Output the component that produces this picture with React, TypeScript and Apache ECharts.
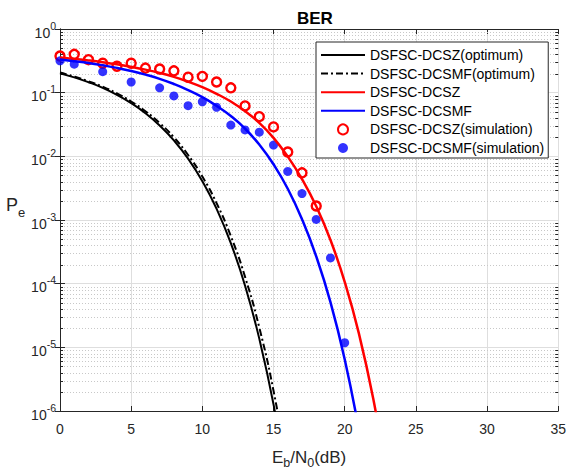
import React, { useEffect, useRef } from 'react';
import * as echarts from 'echarts';

// Eb/N0 grid (dB) for the analytic curves
const snrDb = [0, 1, 2, 3, 4, 5, 6, 7, 8, 9, 10, 11, 12, 13, 14, 15, 16, 17, 18, 19, 20, 21, 22, 23];
const dcszOptimum = [0.201, 0.174, 0.146, 0.119, 0.0924, 0.0684, 0.0476, 0.0305, 0.0178, 0.00919, 0.00407, 0.0015, 4.33e-4, 9.3e-5, 1.37e-5, 1.27e-6, 6.5e-8, null, null, null, null, null, null, null];
const dcsmfOptimum = [0.207, 0.179, 0.151, 0.124, 0.0973, 0.0727, 0.0512, 0.0334, 0.0199, 0.0105, 0.00482, 0.00184, 5.6e-4, 1.28e-4, 2.05e-5, 2.08e-6, 1.2e-7, null, null, null, null, null, null, null];
const dcszTheory = [0.356, 0.339, 0.321, 0.301, 0.279, 0.255, 0.23, 0.204, 0.177, 0.149, 0.122, 0.096, 0.0725, 0.051, 0.0335, 0.0195, 0.0099, 0.0044, 0.00164, 4.86e-4, 1.07e-4, 1.64e-5, 1.58e-6, 8.6e-8];
const dcsmfTheory = [0.332, 0.312, 0.292, 0.269, 0.245, 0.219, 0.192, 0.165, 0.137, 0.11, 0.085, 0.062, 0.043, 0.0272, 0.0153, 0.0075, 0.0031, 0.00103, 2.68e-4, 5.12e-5, 6.5e-6, 5.0e-7, null, null];

// simulation points
const simDb = [0, 1, 2, 3, 4, 5, 6, 7, 8, 9, 10, 11, 12, 13, 14, 15, 16, 17, 18, 19, 20];
const dcszSim = [0.376, 0.4, 0.33, 0.29, 0.26, 0.29, 0.243, 0.235, 0.22, 0.175, 0.18, 0.147, 0.119, 0.062, 0.042, 0.029, 0.0117, 0.0055, 0.00166, null, null];
const dcsmfSim = [0.316, 0.28, null, 0.214, null, 0.147, null, 0.119, 0.089, 0.0624, 0.072, 0.059, 0.031, 0.026, 0.024, 0.015, 0.0058, 0.0026, 0.00102, 2.54e-4, 1.18e-5];

const seriesNames = [
  'DSFSC-DCSZ(optimum)',
  'DSFSC-DCSMF(optimum)',
  'DSFSC-DCSZ',
  'DSFSC-DCSMF',
  'DSFSC-DCSZ(simulation)',
  'DSFSC-DCSMF(simulation)',
];

const xMin = 0;
const xMax = 35;
const xStep = 5;
const yMin = 1e-6;
const yMax = 1;

const FONT = '"Liberation Sans", Arial, Helvetica, sans-serif';
const AX = '#262626';

function pairs(xs: number[], ys: (number | null)[]) {
  return xs.map((x, i) => [x, ys[i] === null ? null : ys[i]]);
}

function minorValues(): number[] {
  const out: number[] = [];
  for (let e = -6; e < 0; e++) {
    for (let m = 2; m <= 9; m++) out.push(m * Math.pow(10, e));
  }
  return out;
}

export default function App() {
  const ref = useRef<HTMLDivElement>(null);
  useEffect(() => {
    document.body.style.margin = '0';
    if (!ref.current) return;
    const chart = echarts.init(ref.current, undefined, { renderer: 'svg' });
    const minors = minorValues().map((v) => [xMin, v]);
    const legendData = seriesNames.map((name, i) =>
      i < 4
        ? { name, itemStyle: { opacity: 0, color: 'rgba(0,0,0,0)', borderWidth: 0 } }
        : { name }
    );
    const option: any = {
      animation: false,
      backgroundColor: '#ffffff',
      title: {
        text: 'BER',
        left: 292,
        top: 5,
        textStyle: { fontFamily: FONT, fontSize: 17, fontWeight: 'bold', color: '#000' },
      },
      grid: { left: 60, right: 10, top: 29, bottom: 54, containLabel: false },
      legend: {
        orient: 'vertical',
        left: 316,
        top: 42,
        itemWidth: 44,
        itemHeight: 10,
        itemGap: 4.6,
        padding: [6, 4, 3, 4],
        borderColor: AX,
        borderWidth: 1,
        borderRadius: 0,
        backgroundColor: '#ffffff',
        selectedMode: false,
        textStyle: { fontFamily: FONT, fontSize: 14, color: '#000' },
        data: legendData,
      },
      xAxis: [
        {
          type: 'value',
          min: xMin,
          max: xMax,
          interval: xStep,
          position: 'bottom',
          name: '{m|E}{s|b}{m|/N}{s|0}{m|(dB)}',
          nameLocation: 'middle',
          nameGap: 35,
          nameTextStyle: {
            rich: {
              m: { fontFamily: FONT, fontSize: 17, color: AX },
              s: { fontFamily: FONT, fontSize: 12.5, color: AX, padding: [10, 0, 0, 0] },
            },
          },
          axisLine: { show: true, lineStyle: { color: AX, width: 1 } },
          axisTick: { show: true, inside: true, length: 5, lineStyle: { color: AX } },
          axisLabel: { fontFamily: FONT, fontSize: 14, color: AX, margin: 11 },
          splitLine: { show: true, lineStyle: { color: '#dedede', width: 1 } },
        },
        {
          type: 'value',
          min: xMin,
          max: xMax,
          interval: xStep,
          position: 'top',
          axisLine: { show: true, lineStyle: { color: AX, width: 1 } },
          axisTick: { show: true, inside: true, length: 5, lineStyle: { color: AX } },
          axisLabel: { show: false },
          splitLine: { show: false },
        },
      ],
      yAxis: [
        {
          type: 'log',
          logBase: 10,
          min: yMin,
          max: yMax,
          splitNumber: 6,
          position: 'left',
          name: '{m|P}{s|e}',
          nameLocation: 'middle',
          nameRotate: 0,
          nameGap: 32,
          nameTextStyle: {
            padding: [0, 0, 30, 0],
            rich: {
              m: { fontFamily: FONT, fontSize: 18, color: AX },
              s: { fontFamily: FONT, fontSize: 13, color: AX, padding: [14, 0, 0, 0] },
            },
          },
          axisLine: { show: true, lineStyle: { color: AX, width: 1 } },
          axisTick: { show: true, inside: true, length: 5, lineStyle: { color: AX } },
          axisLabel: {
            margin: 4,
            formatter: (v: number) => `{b|10}{s|${Math.round(Math.log10(v))}}`,
            rich: {
              b: { fontFamily: FONT, fontSize: 14, color: AX, padding: [7, 0, 0, 0] },
              s: { fontFamily: FONT, fontSize: 10.5, color: AX, padding: [0, 0, 7, 0] },
            },
          },
          splitLine: { show: true, lineStyle: { color: '#dedede', width: 1 } },
        },
        {
          type: 'log',
          logBase: 10,
          min: yMin,
          max: yMax,
          splitNumber: 6,
          position: 'right',
          axisLine: { show: true, lineStyle: { color: AX, width: 1 } },
          axisTick: { show: true, inside: true, length: 5, lineStyle: { color: AX } },
          axisLabel: { show: false },
          splitLine: { show: false },
        },
      ],
      series: [
        {
          type: 'custom',
          name: 'minor',
          silent: true,
          z: 1,
          xAxisIndex: 0,
          yAxisIndex: 0,
          encode: { x: 0, y: 1 },
          data: minors,
          renderItem: (_p: any, api: any) => {
            const v = api.value(1);
            const a = api.coord([xMin, v]);
            const b = api.coord([xMax, v]);
            const y = Math.round(a[1]) + 0.5;
            return {
              type: 'group',
              children: [
                {
                  type: 'line',
                  shape: { x1: a[0] + 1, y1: y, x2: b[0] - 1, y2: y },
                  style: { stroke: '#c8c8c8', lineWidth: 1, lineDash: [1, 2] },
                },
                {
                  type: 'line',
                  shape: { x1: a[0], y1: y, x2: a[0] + 3, y2: y },
                  style: { stroke: AX, lineWidth: 1 },
                },
                {
                  type: 'line',
                  shape: { x1: b[0] - 3, y1: y, x2: b[0], y2: y },
                  style: { stroke: AX, lineWidth: 1 },
                },
              ],
            };
          },
        },
        {
          type: 'line',
          name: seriesNames[0],
          data: pairs(snrDb, dcszOptimum),
          symbol: 'none',
          smooth: true,
          clip: true,
          connectNulls: false,
          lineStyle: { color: '#000000', width: 2 },
          itemStyle: { color: '#000000' },
        },
        {
          type: 'line',
          name: seriesNames[1],
          data: pairs(snrDb, dcsmfOptimum),
          symbol: 'none',
          smooth: true,
          clip: true,
          lineStyle: { color: '#000000', width: 2, type: [7, 3, 2, 3] },
          itemStyle: { color: '#000000' },
        },
        {
          type: 'line',
          name: seriesNames[2],
          data: pairs(snrDb, dcszTheory),
          symbol: 'none',
          smooth: true,
          clip: true,
          lineStyle: { color: '#ff0000', width: 2.5 },
          itemStyle: { color: '#ff0000' },
        },
        {
          type: 'line',
          name: seriesNames[3],
          data: pairs(snrDb, dcsmfTheory),
          symbol: 'none',
          smooth: true,
          clip: true,
          lineStyle: { color: '#0000ff', width: 2.5 },
          itemStyle: { color: '#0000ff' },
        },
        {
          type: 'scatter',
          name: seriesNames[4],
          data: pairs(simDb, dcszSim).filter((p) => p[1] !== null),
          symbol: 'circle',
          symbolSize: 9,
          itemStyle: { color: 'rgba(255,255,255,0)', borderColor: '#ff0000', borderWidth: 2.4, opacity: 1 },
        },
        {
          type: 'scatter',
          name: seriesNames[5],
          data: pairs(simDb, dcsmfSim).filter((p) => p[1] !== null),
          symbol: 'circle',
          symbolSize: 9,
          itemStyle: { color: '#0000ff' },
        },
      ],
    };
    chart.setOption(option);
    return () => chart.dispose();
  }, []);
  return <div ref={ref} style={{ width: 569, height: 474 }} />;
}
